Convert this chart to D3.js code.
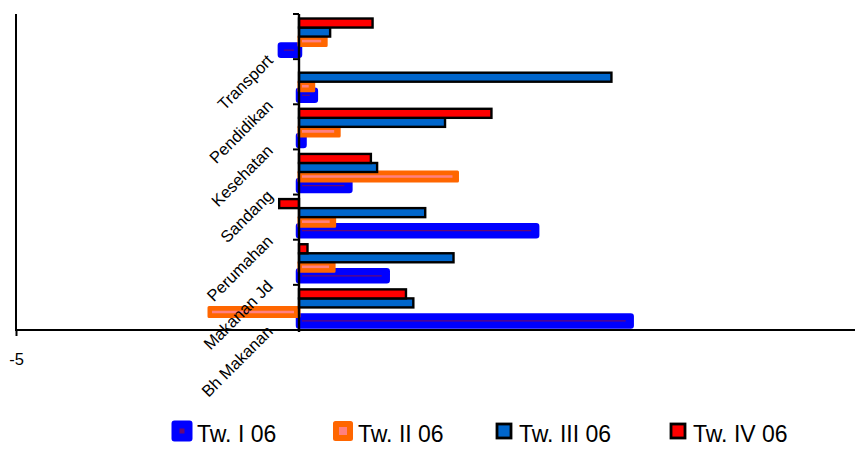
<!DOCTYPE html>
<html>
<head>
<meta charset="utf-8">
<script src="https://cdn.jsdelivr.net/npm/d3@7"></script>
<style>
  body { margin: 0; background: #fff; }
  svg { display: block; }
  text { font-family: "Liberation Sans", Arial, sans-serif; fill: #000; }
</style>
</head>
<body>
<svg id="chart" width="855" height="449"></svg>
<script>
// Categories, listed bottom to top
const categories = ["Bh Makanan", "Makanan Jd", "Perumahan", "Sandang", "Kesehatan", "Pendidikan", "Transport"];
const seriesNames = ["Tw. I 06", "Tw. II 06", "Tw. III 06", "Tw. IV 06"];

// Quarterly values per category (same order as categories)
const twI   = [5.86, 1.55, 4.19, 0.89, 0.08, 0.28, -0.32];
const twII  = [-1.59, 0.62, 0.63, 2.80, 0.71, 0.26, 0.48];
const twIII = [2.02, 2.73, 2.23, 1.38, 2.58, 5.52, 0.55];
const twIV  = [1.89, 0.15, -0.35, 1.27, 3.40, 0.00, 1.30];

const xDomain = [-5, 10];
const xTickValues = [-5];

const seriesValues = [twI, twII, twIII, twIV];
const series = seriesNames.map((name, i) => ({
  name, idx: i,
  values: categories.map((c, j) => ({ cat: c, v: seriesValues[i][j] }))
}));

// Visual style for each series
const styles = [
  { fill: "#0000FF", stroke: "#0000FF", sw: 6.5, round: true, inner: "#7a0a5e", innerW: 1.2, innerOp: 0.85 },
  { fill: "#FF6600", stroke: "#FF6600", sw: 3,   round: true, inner: "#FF8080", innerW: 2.6, innerOp: 1 },
  { fill: "#0066CC", stroke: "#000000", sw: 2.4, round: false },
  { fill: "#FF0000", stroke: "#000000", sw: 2.4, round: false }
];

const svg = d3.select("#chart");
const plotTop = 14, plotBottom = 330, plotLeft = 16, plotRight = 855;

const x = d3.scaleLinear().domain(xDomain).range([16, 865]);
const y = d3.scaleBand().domain(categories.slice().reverse()).range([plotTop, plotBottom]);
// Within each category: Tw. IV on top, Tw. I at the bottom
const sub = d3.scaleBand().domain([3, 2, 1, 0]).range([0, y.bandwidth()]).paddingOuter(0.5);

// Left border of the plot area
svg.append("line")
  .attr("x1", plotLeft).attr("x2", plotLeft)
  .attr("y1", plotTop).attr("y2", plotBottom)
  .attr("stroke", "#000").attr("stroke-width", 2);

// Bars
const gBars = svg.append("g");
series.forEach(s => {
  const st = styles[s.idx];
  const g = gBars.append("g");
  g.selectAll("rect")
    .data(s.values)
    .join("rect")
    .attr("x", d => Math.min(x(0), x(d.v)))
    .attr("y", d => y(d.cat) + sub(s.idx))
    .attr("width", d => Math.abs(x(d.v) - x(0)))
    .attr("height", sub.bandwidth())
    .attr("fill", st.fill)
    .attr("stroke", st.stroke)
    .attr("stroke-width", st.sw)
    .attr("stroke-linejoin", st.round ? "round" : "miter");
  if (st.inner) {
    g.selectAll("line.inner")
      .data(s.values.filter(d => Math.abs(x(d.v) - x(0)) > 8))
      .join("line")
      .attr("class", "inner")
      .attr("x1", d => Math.min(x(0), x(d.v)) + 3)
      .attr("x2", d => Math.max(x(0), x(d.v)) - 5)
      .attr("y1", d => y(d.cat) + sub(s.idx) + sub.bandwidth() / 2)
      .attr("y2", d => y(d.cat) + sub(s.idx) + sub.bandwidth() / 2)
      .attr("stroke", st.inner)
      .attr("stroke-width", st.innerW)
      .attr("opacity", st.innerOp);
  }
});

// Category axis at zero
const x0 = x(0);
svg.append("line")
  .attr("x1", x0).attr("x2", x0)
  .attr("y1", plotTop).attr("y2", plotBottom + 2)
  .attr("stroke", "#000").attr("stroke-width", 2.4);
const boundaries = categories.map(c => y(c)).concat([y.range()[1]]);
svg.append("g").selectAll("line")
  .data(boundaries.filter(b => b < plotBottom - 1))
  .join("line")
  .attr("x1", x0 - 6).attr("x2", x0)
  .attr("y1", d => d).attr("y2", d => d)
  .attr("stroke", "#000").attr("stroke-width", 2);

// Category labels, rotated
svg.append("g").selectAll("text")
  .data(categories)
  .join("text")
  .attr("text-anchor", "end")
  .attr("transform", c => `translate(${x0 - 25},${y(c) + y.bandwidth() / 2 + 25}) rotate(-45)`)
  .style("font-size", "16.5px")
  .text(c => c);

// Value axis along the bottom
const xAxis = d3.axisBottom(x).tickValues(xTickValues).tickSize(6).tickPadding(17).tickFormat(d => String(d));
const gx = svg.append("g").attr("transform", `translate(0,${plotBottom})`).call(xAxis);
gx.select(".domain").remove();
gx.selectAll(".tick line").attr("stroke", "#000").attr("stroke-width", 2);
gx.selectAll(".tick text").style("font-size", "16.5px").attr("font-family", null).style("fill", "#000");
svg.append("line")
  .attr("x1", plotLeft - 1).attr("x2", plotRight)
  .attr("y1", plotBottom).attr("y2", plotBottom)
  .attr("stroke", "#000").attr("stroke-width", 2.2);

// Legend: one entry per series, text start positions along the bottom row
const legendTextX = [197, 358, 519, 693];
const legend = svg.append("g");
series.forEach(s => {
  const st = styles[s.idx];
  const lx = legendTextX[s.idx];
  const item = legend.append("g");
  const cx = lx - 15, cy = 431;
  if (st.round) {
    item.append("rect")
      .attr("x", cx - 7.5).attr("y", cy - 7.5).attr("width", 15).attr("height", 15)
      .attr("fill", st.fill).attr("stroke", st.stroke).attr("stroke-width", s.idx === 0 ? 6 : 5)
      .attr("stroke-linejoin", "round");
    const isz = s.idx === 0 ? 5 : 8;
    item.append("rect")
      .attr("x", cx - isz / 2).attr("y", cy - isz / 2).attr("width", isz).attr("height", isz)
      .attr("fill", st.inner).attr("opacity", st.innerOp);
  } else {
    item.append("rect")
      .attr("x", cx - 7).attr("y", cy - 7).attr("width", 14).attr("height", 14)
      .attr("fill", st.fill).attr("stroke", st.stroke).attr("stroke-width", 2.8);
  }
  item.append("text")
    .attr("x", lx).attr("y", 442)
    .style("font-size", "23px")
    .text(s.name);
});
</script>
</body>
</html>
